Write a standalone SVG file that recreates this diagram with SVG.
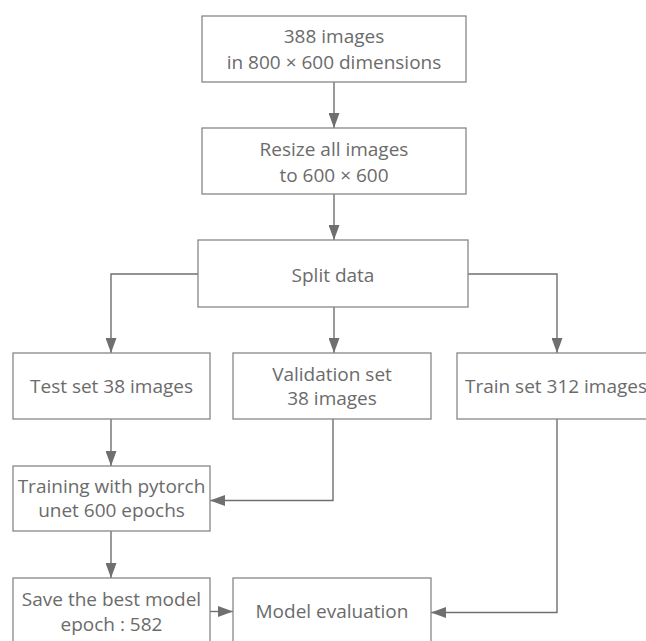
<svg xmlns="http://www.w3.org/2000/svg" width="646" height="641" viewBox="0 0 646 641">
<style>
.box{fill:#fff;stroke:#878787;stroke-width:1.3}
.t{font-family:"Open Sans","Noto Sans",sans-serif;font-size:19px;fill:#6b6b6b;text-anchor:middle}
.c{fill:none;stroke:#6f6f6f;stroke-width:1.4}
</style>
<defs>
<marker id="ah" markerUnits="userSpaceOnUse" markerWidth="15" markerHeight="11" viewBox="0 0 15 11" refX="15" refY="5.5" orient="auto">
<path d="M0,0 L15,5.5 L0,11 z" fill="#6f6f6f"/>
</marker>
</defs>
<rect width="646" height="641" fill="#fff"/>
<g id="connectors">
<path class="c" d="M334,82 V128" marker-end="url(#ah)"/>
<path class="c" d="M334,194 V240" marker-end="url(#ah)"/>
<path class="c" d="M334,307 V353" marker-end="url(#ah)"/>
<path class="c" d="M198,274 H111 V353" marker-end="url(#ah)"/>
<path class="c" d="M468,274 H557 V353" marker-end="url(#ah)"/>
<path class="c" d="M111,419 V466" marker-end="url(#ah)"/>
<path class="c" d="M333,419 V500.5 H210" marker-end="url(#ah)"/>
<path class="c" d="M111,531 V578" marker-end="url(#ah)"/>
<path class="c" d="M210,611.5 H233" marker-end="url(#ah)"/>
<path class="c" d="M557,419 V612.5 H431" marker-end="url(#ah)"/>
</g>
<g id="n1"><rect class="box" x="202" y="16" width="264" height="66"/>
<text class="t" x="334" y="43">388 images</text><text class="t" x="334" y="69">in 800 × 600 dimensions</text></g>
<g id="n2"><rect class="box" x="202" y="128" width="264" height="66"/>
<text class="t" x="334" y="156">Resize all images</text><text class="t" x="334" y="182">to 600 × 600</text></g>
<g id="n3"><rect class="box" x="198" y="240" width="270" height="67"/>
<text class="t" x="333" y="282">Split data</text></g>
<g id="n4"><rect class="box" x="13" y="353" width="197" height="66"/>
<text class="t" x="111.5" y="393">Test set 38 images</text></g>
<g id="n5"><rect class="box" x="233" y="353" width="198" height="66"/>
<text class="t" x="332" y="381">Validation set</text><text class="t" x="332" y="405">38 images</text></g>
<g id="n6"><rect class="box" x="457" y="353" width="200" height="66"/>
<text class="t" x="556" y="393">Train set 312 images</text></g>
<g id="n7"><rect class="box" x="13" y="466" width="197" height="65"/>
<text class="t" x="111.5" y="493">Training with pytorch</text><text class="t" x="111.5" y="517">unet 600 epochs</text></g>
<g id="n8"><rect class="box" x="13" y="578" width="197" height="65"/>
<text class="t" x="111.5" y="606">Save the best model</text><text class="t" x="111.5" y="631">epoch : 582</text></g>
<g id="n9"><rect class="box" x="233" y="578" width="198" height="65"/>
<text class="t" x="332" y="618">Model evaluation</text></g>
</svg>
